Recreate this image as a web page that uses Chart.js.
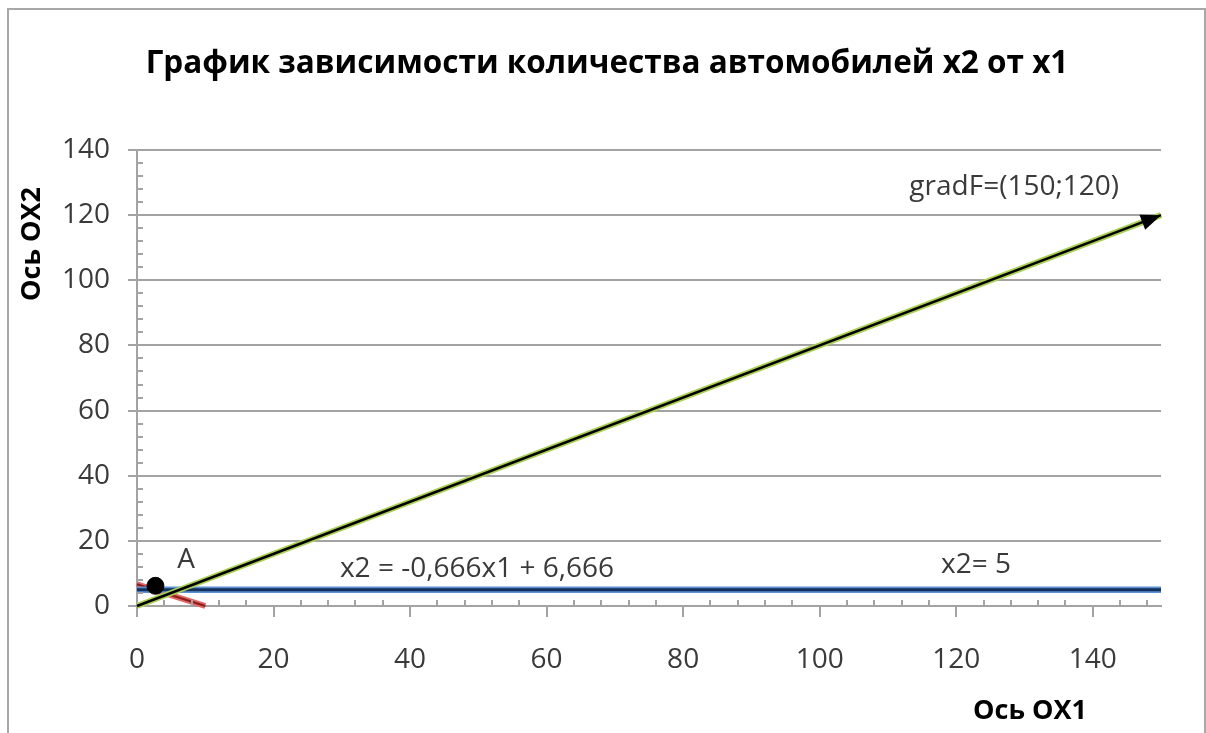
<!DOCTYPE html>
<html>
<head>
<meta charset="utf-8">
<script src="https://cdn.jsdelivr.net/npm/chart.js@4.4.1/dist/chart.umd.min.js"></script>
<style>
  html, body { margin: 0; padding: 0; background: #fff; }
  canvas { display: block; }
</style>
</head>
<body>
<canvas id="c" width="1206" height="733"></canvas>
<script>
// Данные графика — читаем с картинки
const titleText = 'График зависимости количества автомобилей x2 от x1'
const xAxisTitle = 'Ось OX1'
const yAxisTitle = 'Ось OX2'

// градиент F = (150;120)
const gradX = [0, 150]
const gradY = [0, 120]
// ограничение x2 = 5
const limitX = [0, 150]
const limitY = [5, 5]
// прямая x2 = -0,666x1 + 6,666
const lineX = [0, 10]
const lineY = [6.666, 0]
// точка A
const pointAX = [2.7]
const pointAY = [6.2]

// подписи на графике (якорь в координатах данных)
const noteTexts = ['gradF=(150;120)', 'A', 'x2 = -0,666x1 + 6,666', 'x2= 5']
const noteX = [128.5, 7.2, 49.8, 122.9]
const noteY = [126.2, 11.7, 8.9, 10.1]

const xMin = 0, xMax = 150, xStep = 20
const yMin = 0, yMax = 140, yStep = 20
const minorStep = 4

const toPts = (xs, ys) => xs.map((x, i) => ({ x, y: ys[i] }))

const GRID = '#a3a3a3'
const TXT = '#3a3a3a'
const FONT = '"Open Sans", sans-serif'

// Рамка, заголовки, подписи, стрелка и малые засечки
const decor = {
  id: 'decor',
  beforeDraw(chart) {
    const c = chart.ctx
    c.save()
    c.strokeStyle = '#a8a8a8'
    c.lineWidth = 2
    c.strokeRect(8, 9, 1197, 740)
    c.restore()
  },
  afterDraw(chart) {
    const c = chart.ctx
    const xs = chart.scales.x, ys = chart.scales.y
    c.save()
    // малые засечки (внутрь области)
    c.strokeStyle = GRID
    c.lineWidth = 2
    c.beginPath()
    for (let v = xMin; v <= xMax; v += minorStep) {
      if (v % xStep === 0) continue
      const px = Math.round(xs.getPixelForValue(v))
      c.moveTo(px, ys.bottom); c.lineTo(px, ys.bottom - 6)
    }
    for (let v = yMin; v <= yMax; v += minorStep) {
      if (v % yStep === 0) continue
      const py = Math.round(ys.getPixelForValue(v))
      c.moveTo(xs.left, py); c.lineTo(xs.left + 6, py)
    }
    c.stroke()

    // стрелка на конце градиента
    const x0 = xs.getPixelForValue(gradX[0]), y0 = ys.getPixelForValue(gradY[0])
    const x1 = xs.getPixelForValue(gradX[1]), y1 = ys.getPixelForValue(gradY[1])
    const a = Math.atan2(y1 - y0, x1 - x0)
    const L = 20, W = 8
    c.fillStyle = '#000'
    c.beginPath()
    c.moveTo(x1, y1)
    c.lineTo(x1 - L * Math.cos(a) + W * Math.sin(a), y1 - L * Math.sin(a) - W * Math.cos(a))
    c.lineTo(x1 - L * Math.cos(a) - W * Math.sin(a), y1 - L * Math.sin(a) + W * Math.cos(a))
    c.closePath()
    c.fill()

    // подписи
    c.fillStyle = TXT
    c.font = '28px ' + FONT
    c.textAlign = 'center'
    c.textBaseline = 'alphabetic'
    noteTexts.forEach((t, i) => {
      c.fillText(t, xs.getPixelForValue(noteX[i]), ys.getPixelForValue(noteY[i]))
    })

    // заголовок
    c.fillStyle = '#000'
    c.font = 'bold 31.5px ' + FONT
    c.fillText(titleText, 607, 73)

    // названия осей
    c.font = 'bold 27px ' + FONT
    c.textBaseline = 'middle'
    c.fillText(xAxisTitle, 1030, 711)
    c.translate(32, 244)
    c.rotate(-Math.PI / 2)
    c.fillText(yAxisTitle, 0, 0)
    c.restore()
  }
}

new Chart(document.getElementById('c'), {
  type: 'scatter',
  data: {
    datasets: [
      { data: toPts(pointAX, pointAY), pointRadius: 8.5, pointHoverRadius: 8.5, backgroundColor: '#000', borderColor: '#000', order: 0 },
      { data: toPts(gradX, gradY), showLine: true, borderColor: '#000', borderWidth: 2.5, pointRadius: 0, order: 1, clip: false },
      { data: toPts(gradX, gradY), showLine: true, borderColor: '#a9cf55', borderWidth: 6, pointRadius: 0, order: 2, clip: false },
      { data: toPts(limitX, limitY), showLine: true, borderColor: '#13315a', borderWidth: 3, pointRadius: 0, order: 3, clip: false },
      { data: toPts(limitX, limitY), showLine: true, borderColor: '#5b90d2', borderWidth: 6.5, pointRadius: 0, order: 4, clip: false },
      { data: toPts(lineX, lineY), showLine: true, borderColor: '#8e1b1b', borderWidth: 2, pointRadius: 0, order: 5, clip: false },
      { data: toPts(lineX, lineY), showLine: true, borderColor: '#e06666', borderWidth: 6, pointRadius: 0, order: 6, clip: false },
    ]
  },
  options: {
    responsive: false,
    animation: false,
    devicePixelRatio: 1,
    layout: { padding: { left: 0, top: 150, right: 45, bottom: 0 } },
    plugins: { legend: { display: false }, tooltip: { enabled: false } },
    scales: {
      x: {
        type: 'linear',
        min: xMin, max: xMax,
        afterFit: s => { s.height = 127 },
        ticks: { stepSize: xStep, includeBounds: false, color: TXT, font: { size: 28, family: FONT }, padding: 26, maxRotation: 0 },
        grid: { drawOnChartArea: false, drawTicks: true, tickLength: 11, color: GRID, lineWidth: 2 },
        border: { color: GRID, width: 2 }
      },
      y: {
        min: yMin, max: yMax,
        afterFit: s => { s.width = 137 },
        ticks: { stepSize: yStep, color: TXT, font: { size: 28, family: FONT }, padding: 18 },
        grid: { color: GRID, lineWidth: 2, tickLength: 9 },
        border: { color: GRID, width: 2 }
      }
    }
  },
  plugins: [decor]
})
</script>
</body>
</html>
